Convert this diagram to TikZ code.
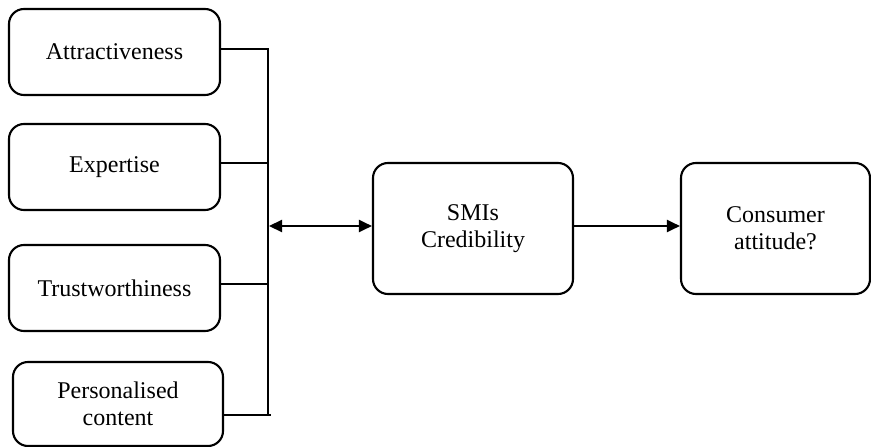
\documentclass[tikz,border=0pt]{standalone}
\usepackage{fontspec}
\setmainfont{Liberation Serif}
\usetikzlibrary{arrows.meta}
\begin{document}
\begin{tikzpicture}[x=1pt,y=-1pt,
  box/.style={draw,line width=2.1pt,rounded corners=15pt,inner sep=0pt,align=center,
    font=\fontsize{24}{27}\selectfont},
  conn/.style={line width=2.1pt},
  tip/.tip={Triangle[length=13pt,width=12pt]},
  arr/.style={line width=2.1pt,-tip}]
\useasboundingbox (0,0) rectangle (871,447);
\node[box,minimum width=211pt,minimum height=86pt] (a) at (114.5,52) {Attractiveness};
\node[box,minimum width=211pt,minimum height=86pt] (e) at (114.5,167) {Expertise};
\node[box,minimum width=211pt,minimum height=86pt] (t) at (114.5,288) {Trustworthiness};
\node[box,minimum width=210pt,minimum height=84pt] (p) at (118,404) {Personalised\\content};
\node[box,minimum width=200pt,minimum height=131pt] (s) at (473,228.5) {SMIs\\Credibility};
\node[box,minimum width=189pt,minimum height=131pt] (c) at (775.5,228.5) {Consumer\\attitude?};
\coordinate (top) at (268,49);
\coordinate (bot) at (268,415);
\coordinate (mid) at (269,226);
\draw[conn] (268,48) -- (268,416);
\draw[conn] (a.east |- top) -- (top);
\draw[conn] (e.east |- 0,163) -- (268,163);
\draw[conn] (t.east |- 0,284) -- (268,284);
\draw[conn] (p.east |- bot) -- (271,415);
\draw[line width=2.1pt,tip-tip] (mid) -- (s.west |- mid);
\draw[arr] (s.east |- mid) -- (c.west |- mid);
\end{tikzpicture}
\end{document}
